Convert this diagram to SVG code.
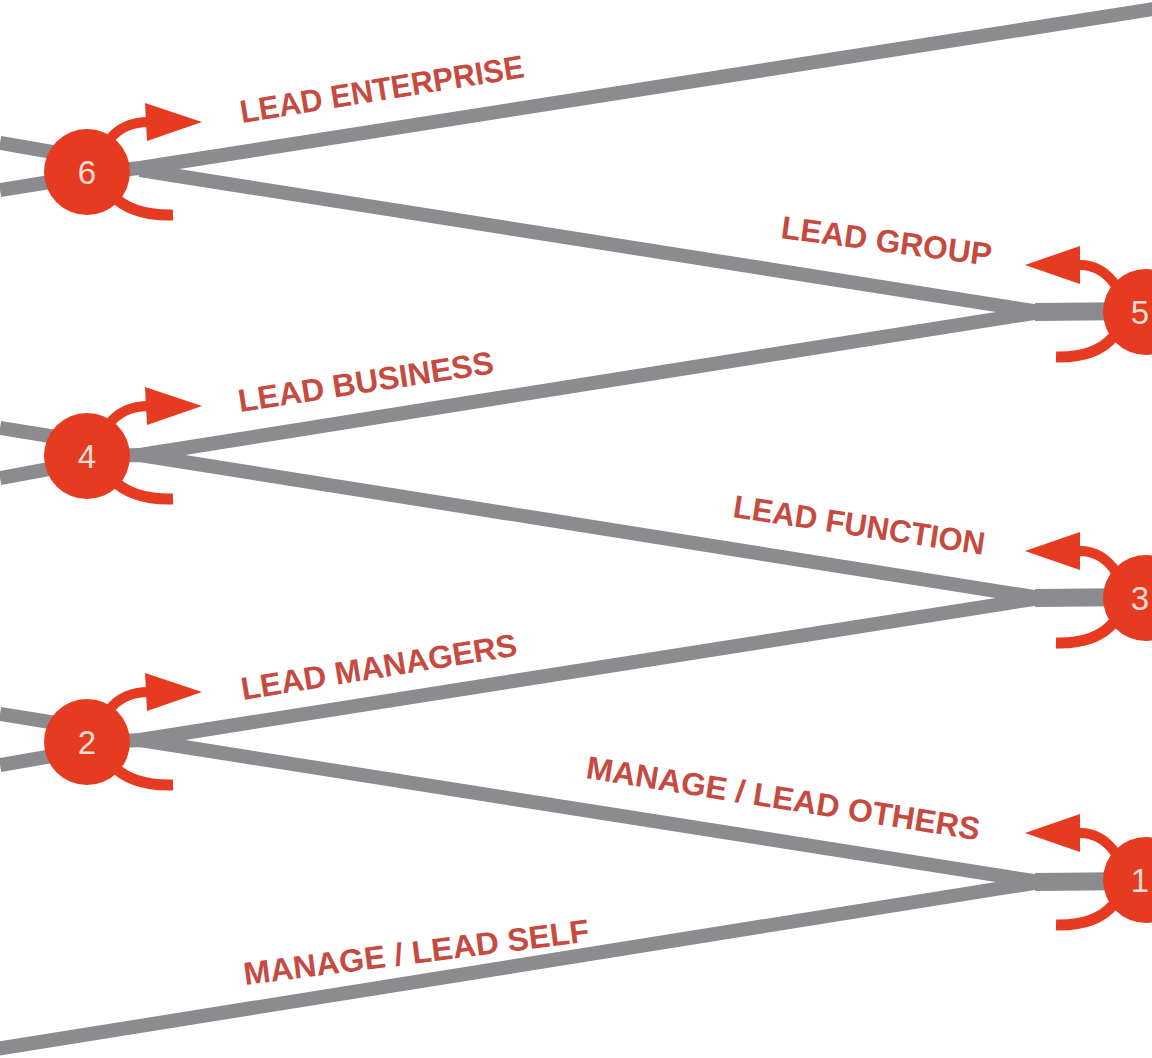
<svg xmlns="http://www.w3.org/2000/svg" width="1152" height="1058" viewBox="0 0 1152 1058">
<defs>
<style>
.ln{fill:none;stroke:#8b8b90;stroke-width:14;stroke-linecap:butt;stroke-linejoin:round}
.stub{fill:none;stroke:#8b8b90;stroke-width:18;stroke-linecap:butt}
.dot{fill:#e63b20}
.rs{fill:none;stroke:#e63b20;stroke-width:10;stroke-linecap:butt}
.hk{fill:none;stroke:#e63b20;stroke-width:11;stroke-linecap:butt}
.hd{fill:#e63b20}
.num{font-family:"Liberation Sans",Arial,sans-serif;font-size:33px;fill:#f8ddd2;text-anchor:middle}
.lbl{font-family:"Liberation Sans",Arial,sans-serif;font-weight:bold;font-size:32px;fill:#c64a3f}
</style>
<g id="leftDeco">
<path class="rs" d="M 22 -32 Q 36 -50 62 -50"/>
<polygon class="hd" points="58,-69 115,-50 60,-31"/>
<path class="hk" d="M 24 22 Q 44 44 86 43"/>
</g>
<g id="rightDeco">
<path class="rs" d="M -30 -26 Q -44 -47 -66 -47"/>
<polygon class="hd" points="-66,-66 -121,-47 -66,-28"/>
<path class="hk" d="M -32 24 Q -50 46 -90 45"/>
</g>
</defs>
<rect width="1152" height="1058" fill="#ffffff"/>
<g id="connectors">
<path class="ln" d="M 0 143 L 87 158"/>
<path class="ln" d="M 0 190 L 87 176"/>
<path class="ln" d="M 0 428 L 87 442"/>
<path class="ln" d="M 0 478 L 87 462"/>
<path class="ln" d="M 0 714 L 87 728"/>
<path class="ln" d="M 0 765 L 87 750"/>
<path class="ln" d="M 100 172 L 140 168 L 1160 8"/>
<path class="ln" d="M 140 170 L 1040 312"/>
<path class="stub" d="M 1035 312 L 1140 311"/>
<path class="ln" d="M 1040 312 L 140 455"/>
<path class="ln" d="M 100 456 L 140 455 L 1040 598"/>
<path class="stub" d="M 1035 598 L 1140 597"/>
<path class="ln" d="M 1040 598 L 140 740"/>
<path class="ln" d="M 100 742 L 140 740 L 1040 882"/>
<path class="stub" d="M 1035 882 L 1140 881"/>
<path class="ln" d="M 1040 882 L -10 1050"/>
</g>
<g id="node6" transform="translate(87,172)">
<use href="#leftDeco"/>
<circle class="dot" r="43"/>
<text class="num" y="12">6</text>
</g>
<g id="node4" transform="translate(87,456)">
<use href="#leftDeco"/>
<circle class="dot" r="43"/>
<text class="num" y="12">4</text>
</g>
<g id="node2" transform="translate(87,742)">
<use href="#leftDeco"/>
<circle class="dot" r="43"/>
<text class="num" y="12">2</text>
</g>
<g id="node5" transform="translate(1146,312)">
<use href="#rightDeco"/>
<circle class="dot" r="43"/>
<text class="num" x="-6" y="12">5</text>
</g>
<g id="node3" transform="translate(1146,598)">
<use href="#rightDeco"/>
<circle class="dot" r="43"/>
<text class="num" x="-6" y="12">3</text>
</g>
<g id="node1" transform="translate(1146,880)">
<use href="#rightDeco"/>
<circle class="dot" r="43"/>
<text class="num" x="-6" y="12">1</text>
</g>
<g id="labels">
<text class="lbl" x="242" y="123" textLength="287" lengthAdjust="spacingAndGlyphs" transform="rotate(-9.2 242 123)">LEAD ENTERPRISE</text>
<text class="lbl" x="780" y="238" textLength="212" lengthAdjust="spacingAndGlyphs" transform="rotate(7.5 780 238)">LEAD GROUP</text>
<text class="lbl" x="240" y="412" textLength="258" lengthAdjust="spacingAndGlyphs" transform="rotate(-8.7 240 412)">LEAD BUSINESS</text>
<text class="lbl" x="732" y="517" textLength="254" lengthAdjust="spacingAndGlyphs" transform="rotate(8.6 732 517)">LEAD FUNCTION</text>
<text class="lbl" x="243" y="700" textLength="279" lengthAdjust="spacingAndGlyphs" transform="rotate(-9.2 243 700)">LEAD MANAGERS</text>
<text class="lbl" x="585" y="778" textLength="398" lengthAdjust="spacingAndGlyphs" transform="rotate(9 585 778)">MANAGE / LEAD OTHERS</text>
<text class="lbl" x="245" y="985" textLength="348" lengthAdjust="spacingAndGlyphs" transform="rotate(-7.2 245 985)">MANAGE / LEAD SELF</text>
</g>
</svg>
